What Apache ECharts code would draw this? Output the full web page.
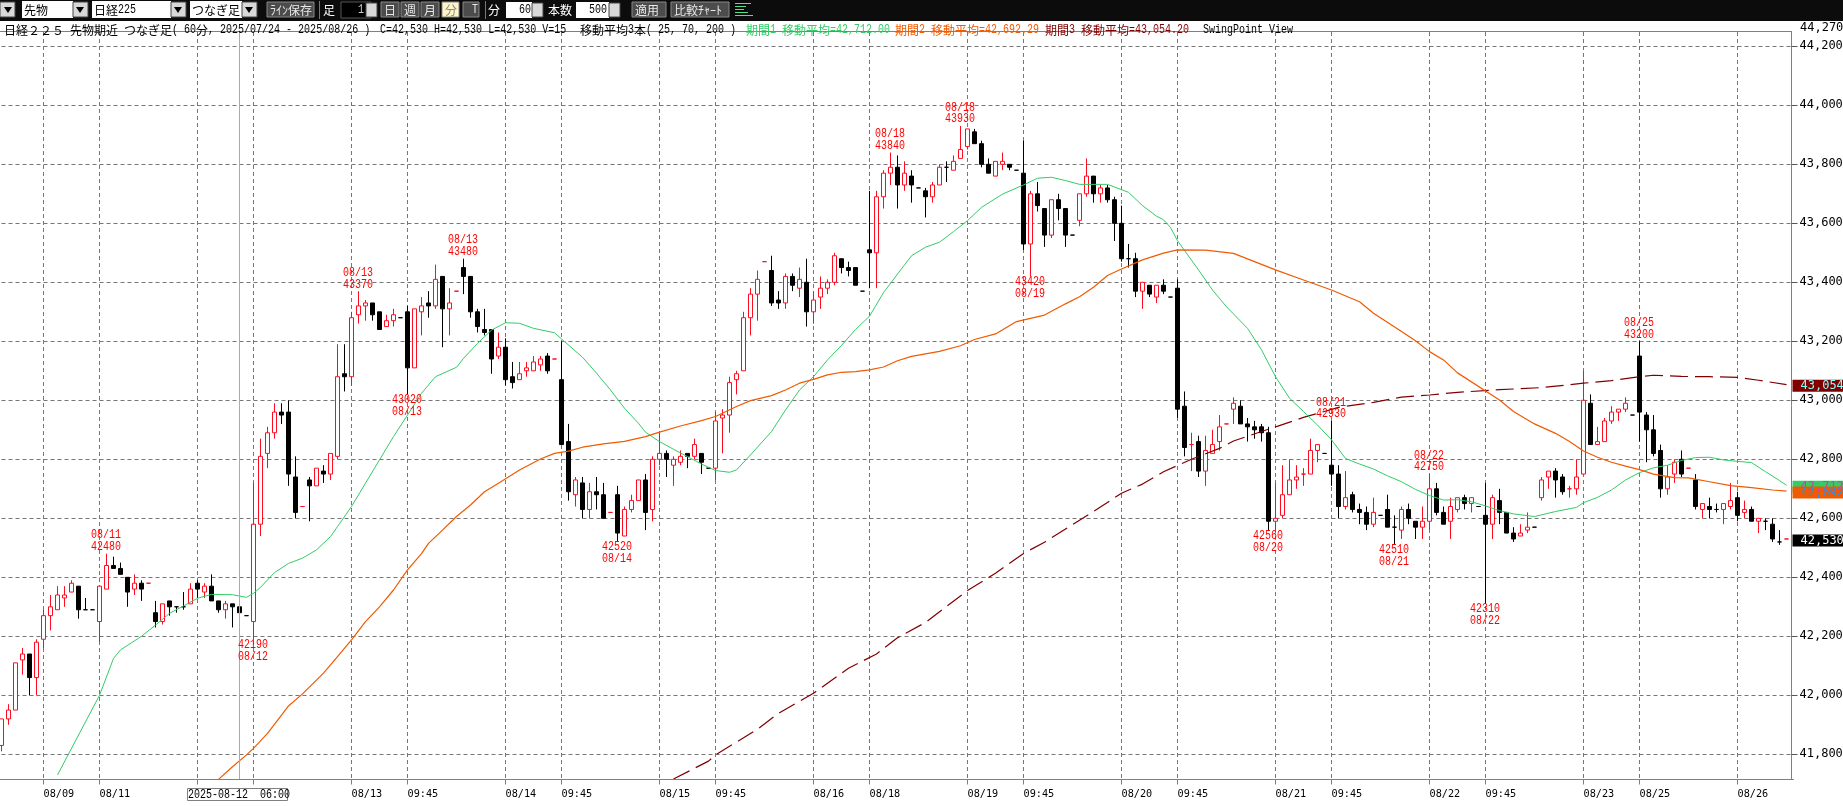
<!DOCTYPE html>
<html>
<head>
<meta charset="utf-8">
<style>html,body{margin:0;padding:0;background:#fff}#c{width:1843px;height:806px}</style>
<script src="https://cdn.jsdelivr.net/npm/echarts@6/dist/echarts.min.js"></script>
</head>
<body>
<div id="c"></div>
<script>
const opens = [
41830,41920,41950,42120,42140,42060,42190,42270,42290,42330,
42350,42370,42290,42290,42250,42360,42440,42430,42400,42360,
42380,42380,42280,42250,42320,42300,42300,42310,42380,42350,
42370,42320,42290,42310,42300,42270,42250,42580,42820,42890,
42960,42960,42740,42640,42730,42710,42760,42750,42810,43090,
43080,43290,43320,43330,43300,43250,43270,43280,43300,43110,
43300,43330,43320,43420,43310,43370,43450,43420,43300,43240,
43240,43150,43180,43080,43070,43100,43100,43120,43150,43140,
43070,42860,42680,42720,42630,42690,42680,42620,42680,42540,
42630,42660,42730,42630,42800,42820,42780,42790,42820,42810,
42820,42770,42770,42940,42950,43070,43100,43280,43360,43470,
43440,43340,43330,43420,43380,43400,43300,43350,43380,43400,
43480,43450,43450,43370,43510,43500,43690,43770,43790,43730,
43760,43720,43710,43690,43730,43790,43780,43820,43860,43910,
43870,43800,43760,43800,43800,43780,43770,43530,43700,43650,
43560,43680,43650,43560,43610,43700,43760,43700,43720,43680,
43600,43480,43480,43370,43390,43350,43390,43350,43380,42980,
42850,42860,42760,42820,42860,42920,42970,42980,42920,42910,
42910,42890,42590,42610,42680,42730,42750,42750,42830,42820,
42780,42750,42640,42680,42630,42620,42580,42610,42630,42570,
42560,42630,42590,42570,42590,42700,42620,42590,42630,42670,
42650,42640,42610,42580,42660,42620,42550,42540,42560,42570,
42670,42740,42760,42740,42700,42700,42750,42990,42850,42860,
42930,42960,42970,42950,43150,42950,42900,42830,42700,42750,
42800,42770,42730,42630,42640,42630,42630,42640,42670,42620,
42630,42590,42590,42580,42520,42530];
const closes = [
41920,41950,42110,42140,42060,42180,42270,42300,42340,42340,
42380,42290,42290,42290,42370,42440,42430,42410,42350,42380,
42360,42380,42250,42310,42300,42300,42300,42360,42360,42370,
42320,42290,42310,42300,42280,42270,42580,42810,42890,42960,
42950,42750,42620,42640,42710,42770,42750,42820,43080,43080,
43280,43320,43330,43290,43240,43270,43290,43280,43110,43310,
43320,43320,43410,43310,43330,43370,43420,43300,43250,43230,
43140,43180,43070,43060,43090,43110,43130,43140,43100,43140,
42850,42690,42730,42630,42690,42680,42600,42620,42550,42630,
42660,42730,42620,42800,42820,42800,42800,42810,42810,42850,
42790,42770,42930,42950,43060,43090,43280,43360,43410,43470,
43330,43330,43420,43390,43410,43300,43340,43380,43400,43490,
43450,43440,43390,43370,43500,43690,43770,43790,43730,43770,
43730,43720,43690,43730,43790,43790,43810,43850,43920,43870,
43800,43770,43810,43810,43790,43780,43530,43700,43660,43560,
43680,43650,43560,43560,43700,43760,43700,43720,43680,43600,
43480,43480,43370,43400,43360,43390,43370,43350,42970,42840,
42850,42760,42830,42850,42910,42920,42990,42920,42910,42900,
42890,42590,42600,42680,42730,42740,42750,42830,42850,42820,
42750,42640,42670,42630,42620,42580,42620,42610,42570,42570,
42630,42600,42570,42590,42700,42620,42580,42640,42670,42650,
42670,42640,42580,42670,42620,42550,42530,42550,42570,42570,
42730,42760,42730,42690,42700,42740,43000,42850,42860,42930,
42960,42970,42990,42950,42960,42900,42820,42700,42740,42790,
42750,42770,42640,42650,42630,42630,42650,42660,42610,42630,
42590,42600,42590,42530,42520,42530];
const lows = [
41810,41900,41950,42070,42000,42000,42160,42220,42290,42300,
42350,42260,42290,42290,42180,42360,42430,42410,42300,42340,
42320,42380,42230,42240,42270,42280,42290,42310,42330,42330,
42320,42280,42260,42230,42280,42270,42190,42540,42770,42870,
42920,42710,42600,42640,42590,42710,42720,42730,42800,43030,
43050,43260,43270,43270,43240,43250,43250,43280,43020,43110,
43220,43280,43310,43180,43220,43370,43360,43280,43230,43220,
43090,43140,43050,43040,43070,43080,43100,43100,43090,43140,
42850,42660,42640,42600,42600,42630,42600,42620,42520,42540,
42620,42660,42560,42590,42780,42740,42710,42780,42770,42800,
42750,42770,42730,42820,42890,43020,43100,43220,43270,43470,
43320,43310,43310,43370,43350,43250,43260,43310,43360,43390,
43430,43420,43390,43370,43380,43380,43650,43730,43650,43710,
43670,43720,43620,43670,43730,43740,43780,43820,43850,43870,
43790,43770,43760,43780,43780,43780,43510,43420,43640,43520,
43550,43610,43520,43560,43590,43690,43670,43670,43670,43540,
43470,43450,43350,43310,43350,43330,43360,43350,42940,42810,
42760,42740,42710,42820,42830,42920,42920,42920,42860,42870,
42860,42560,42560,42600,42680,42700,42710,42750,42790,42820,
42710,42600,42630,42620,42580,42560,42570,42610,42570,42510,
42530,42580,42530,42530,42560,42610,42580,42530,42620,42630,
42620,42640,42310,42530,42580,42550,42520,42540,42550,42570,
42660,42700,42670,42680,42670,42680,42750,42850,42850,42860,
42920,42930,42960,42950,42860,42790,42810,42670,42680,42720,
42740,42770,42630,42600,42600,42620,42580,42630,42590,42600,
42590,42550,42560,42520,42510,42530];
const highs = [
41920,41970,42110,42160,42140,42190,42290,42340,42370,42370,
42390,42370,42330,42290,42370,42480,42470,42450,42400,42410,
42390,42380,42320,42310,42320,42300,42350,42380,42390,42380,
42410,42320,42320,42310,42300,42270,42720,42870,42910,42990,
42990,43000,42810,42640,42740,42770,42780,42820,43190,43190,
43300,43370,43340,43330,43300,43290,43310,43280,43320,43310,
43350,43370,43460,43420,43380,43370,43480,43420,43310,43310,
43240,43230,43210,43130,43130,43130,43150,43150,43160,43140,
43200,42920,42740,42740,42720,42740,42720,42620,42710,42640,
42680,42730,42750,42810,42890,42830,42810,42830,42820,42870,
42820,42770,42960,42970,43080,43100,43300,43380,43440,43470,
43490,43370,43430,43430,43450,43480,43370,43420,43410,43500,
43480,43470,43450,43370,43710,43710,43780,43840,43830,43810,
43780,43720,43720,43740,43800,43810,43830,43930,43920,43920,
43880,43820,43810,43840,43800,43780,43880,43710,43740,43650,
43680,43700,43650,43560,43700,43820,43760,43730,43730,43690,
43660,43530,43500,43400,43390,43390,43410,43350,43410,43030,
42890,42880,42880,42900,42950,42920,43010,43000,42940,42930,
42920,42910,42720,42780,42800,42780,42770,42870,42850,42820,
42930,42780,42760,42690,42650,42640,42670,42610,42680,42610,
42640,42650,42590,42640,42750,42720,42640,42670,42670,42680,
42670,42640,42720,42680,42700,42620,42570,42580,42620,42570,
42740,42760,42770,42750,42710,42800,43100,43020,42910,42940,
42980,42970,43010,42950,43200,42960,42950,42850,42780,42800,
42830,42770,42750,42650,42670,42650,42650,42720,42690,42660,
42640,42600,42600,42600,42560,42530];
// open == close candles drawn red; all the others are black
const redDoji = [21,43,65,79,87,109,170,175,186,224,241,255];

// moving averages as [candle index, price]
const ma25 = [[8,41730],[14,42000],[16,42125],[17,42154],[20,42200],[22,42238],[24,42278],[26,42303],[28,42329],[30,42342],[33,42341],[35,42332],[36,42346],[37,42366],[39,42416],[41,42447],[43,42465],[45,42493],[47,42538],[48,42572],[50,42640],[52,42719],[54,42798],[56,42877],[58,42950],[60,43024],[62,43080],[65,43112],[66,43142],[68,43193],[70,43238],[72,43263],[74,43261],[76,43244],[79,43229],[80,43208],[83,43146],[85,43092],[87,43035],[89,42973],[91,42922],[92,42892],[94,42860],[96,42834],[98,42809],[100,42784],[102,42762],[104,42756],[105,42764],[107,42815],[110,42894],[112,42967],[114,43035],[116,43080],[118,43137],[120,43186],[122,43240],[124,43285],[126,43365],[128,43428],[130,43490],[132,43519],[134,43536],[136,43572],[138,43609],[140,43654],[143,43699],[146,43730],[148,43753],[150,43756],[152,43745],[154,43732],[158,43732],[161,43705],[163,43660],[165,43624],[166,43612],[167,43586],[168,43541],[171,43442],[173,43374],[175,43317],[178,43244],[180,43171],[182,43080],[184,43007],[186,42962],[188,42916],[190,42866],[192,42803],[194,42784],[196,42767],[198,42744],[200,42724],[202,42698],[204,42677],[206,42662],[208,42663],[210,42656],[212,42642],[214,42626],[216,42615],[219,42606],[222,42623],[225,42637],[226,42653],[228,42671],[230,42696],[232,42730],[234,42755],[236,42771],[238,42780],[240,42796],[242,42806],[244,42807],[246,42798],[248,42793],[250,42789],[252,42758],[254,42728],[255,42712]];
const ma70 = [[31,41715],[33,41758],[35,41798],[36,41820],[38,41871],[40,41933],[41,41964],[43,42005],[46,42075],[48,42131],[50,42188],[52,42250],[54,42300],[56,42357],[58,42425],[60,42480],[61,42515],[63,42560],[65,42606],[67,42645],[69,42690],[71,42719],[74,42764],[77,42801],[79,42820],[81,42828],[83,42841],[86,42852],[89,42861],[92,42877],[94,42892],[97,42913],[100,42931],[102,42945],[105,42979],[107,42999],[110,43016],[112,43035],[114,43058],[116,43071],[118,43086],[120,43095],[122,43097],[124,43103],[126,43113],[128,43134],[130,43149],[134,43166],[137,43185],[139,43206],[142,43225],[145,43267],[149,43289],[152,43327],[154,43351],[156,43383],[158,43423],[160,43445],[163,43476],[166,43499],[168,43510],[172,43509],[176,43498],[179,43470],[182,43442],[186,43408],[190,43374],[194,43334],[196,43295],[200,43233],[202,43202],[204,43165],[206,43137],[208,43093],[214,43001],[216,42962],[219,42920],[222,42888],[224,42860],[226,42828],[228,42807],[230,42790],[232,42777],[234,42765],[236,42750],[239,42738],[241,42737],[244,42724],[247,42711],[250,42704],[253,42696],[255,42692]];
const ma200 = [[96,41716],[101,41777],[102,41798],[108,41885],[111,41939],[116,42007],[121,42092],[125,42140],[128,42195],[132,42247],[138,42355],[142,42414],[146,42481],[149,42519],[156,42623],[160,42685],[163,42716],[166,42758],[170,42800],[174,42837],[176,42862],[181,42902],[186,42942],[191,42976],[196,42993],[200,43011],[204,43018],[208,43027],[214,43036],[220,43043],[226,43058],[230,43067],[234,43080],[236,43085],[240,43081],[244,43080],[248,43078],[251,43068],[255,43053]];
const lastValues = {ma25:'42,712.00', ma70:'42,692.29', ma200:'43,054.20', close:'42,530'};

// axis ticks: [candle index, label]
const xTicks = [[6,'08/09'],[14,'08/11'],[28,'08/12'],[36,'09:45'],[50,'08/13'],[58,'09:45'],[72,'08/14'],[80,'09:45'],[94,'08/15'],[102,'09:45'],[116,'08/16'],[124,'08/18'],[138,'08/19'],[146,'09:45'],[160,'08/20'],[168,'09:45'],[182,'08/21'],[190,'09:45'],[204,'08/22'],[212,'09:45'],[226,'08/23'],[234,'08/25'],[248,'08/26']];
const yTicks = [41800,42000,42200,42400,42600,42800,43000,43200,43400,43600,43800,44000,44200];
// swing points: [candle index, date, price]
const swingHighs = [[15,'08/11',42480],[51,'08/13',43370],[66,'08/13',43480],[127,'08/18',43840],[137,'08/18',43930],[190,'08/21',42930],[204,'08/22',42750],[234,'08/25',43200]];
const swingLows = [[36,'08/12',42190],[58,'08/13',43020],[88,'08/14',42520],[147,'08/19',43420],[181,'08/20',42560],[199,'08/21',42510],[212,'08/22',42310]];
const crosshairIndex = 34;

const RED='#ff0c20', GREEN='#33cc66', ORANGE='#f05a00', DARKRED='#800000', GRID='#777777';
const MONO='13px "Liberation Mono"', MONO_SCALE=0.77;
const AXIS_FONT='"DejaVu Sans Mono"';
const categories = opens.map((_, i) => { const t = xTicks.find(t => t[0] === i); return t ? t[1] : ''; }).concat(['']);
const isTick = i => xTicks.some(t => t[0] === i);
const candles = opens.map((o, i) => {
  const value = [o, closes[i], lows[i], highs[i]];
  return o === closes[i]
    ? {value, itemStyle:{borderColorDoji: redDoji.includes(i) ? RED : '#000'}}
    : value;
});
const tag = (index, price, text, bg, fg) => ({
  coord:[index, price], symbol:'rect', symbolSize:[52,12], symbolOffset:[32,1.5],
  itemStyle:{color:bg},
  label:{show:true, position:[8,0], align:'left', verticalAlign:'top', formatter:text, color:fg,
    fontFamily:AXIS_FONT, fontSize:12}
});
const swings = swingHighs.map(t=>({t,high:true})).concat(swingLows.map(t=>({t,high:false})));

// ---- page furniture -----
const G = [];
const rect = (x,y,w,h,fill,stroke) => G.push({type:'rect', silent:true, z:100, shape:{x,y,width:w,height:h}, style:{fill, stroke:stroke||null, lineWidth:1}});
const line = (x1,y1,x2,y2,c) => G.push({type:'line', silent:true, z:101, shape:{x1,y1,x2,y2}, style:{stroke:c, lineWidth:1}});
function write(x, y, str, fill, z) {
  const runs = str.match(/[\u3000-\uff60\u4e00-\u9fff]+|[\uff61-\uff9f]+|[^\u3000-\uff9f\u4e00-\u9fff]+/g);
  let cx = x;
  runs.forEach(r => {
    const c = r.charCodeAt(0);
    const half = c < 0x3000;
    const kana = c >= 0xff61 && c <= 0xff9f;
    G.push({type:'text', silent:true, z:z||102, x:cx, y, scaleX: half ? MONO_SCALE : 1,
      style:{text:r, x:0, y:0, fill, font: half ? MONO : '12px "Noto Sans CJK JP"', textVerticalAlign:'middle', textAlign:'left'}});
    cx += r.length * ((half || kana) ? 6 : 12);
  });
}
rect(0,0,1843,21,'#0c0c0c');
const combo = (x0,x1,b,t) => { rect(x0,1,x1-x0,17,'#ffffff'); write(x0+2,10,t,'#000'); rect(x1,2,b-x1-1,15,'#d8d8d8','#444'); G.push({type:'polygon',silent:true,z:103,shape:{points:[[x1+3,7],[x1+11,7],[x1+7,13]]},style:{fill:'#000'}}); };
rect(0,2,15,15,'#d8d8d8','#444'); G.push({type:'polygon',silent:true,z:103,shape:{points:[[4,7],[12,7],[8,13]]},style:{fill:'#000'}});
combo(22,73,89,'先物'); combo(92,171,187,'日経225'); combo(190,242,258,'つなぎ足');
const btn = (x,w,t,bg,fg) => { rect(x,2,w,15,bg||'#4c4c4c','#888'); write(x+3,10,t,fg||'#e8e8e8'); };
btn(267,47,'ﾗｲﾝ保存');
line(319.5,1,319.5,19,'#777'); write(323,10,'足','#fff');
rect(341,2,30,16,'#000','#555'); write(358,10,'1','#ccc'); rect(366,3,11,14,'#d8d8d8','#444');
btn(381,18,'日'); btn(401,18,'週'); btn(421,18,'月'); btn(442,17,'分','#fff6c8','#888'); btn(463,16,' T');
line(485.5,1,485.5,19,'#777'); write(488,10,'分','#fff');
rect(506,2,26,16,'#fff'); write(519,10,'60','#000'); rect(532,3,11,14,'#d8d8d8','#444');
write(548,10,'本数','#fff');
rect(576,2,33,16,'#fff'); write(589,10,'500','#000'); rect(609,3,11,14,'#d8d8d8','#444');
btn(632,34,'適用'); btn(671,58,'比較ﾁｬｰﾄ');
[3,6,9,12,15].forEach((y,k) => rect(735,y,[16,11,9,13,18][k],1,'#50e090'));

line(0,31.5,1792,31.5,'#808080');
line(0,779.5,1792,779.5,'#808080');
write(4,30,'日経２２５ 先物期近 つなぎ足( 60分, 2025/07/24 - 2025/08/26 )','#000');
write(380,30,'C=42,530 H=42,530 L=42,530 V=15','#000');
write(580,30,'移動平均3本( 25, 70, 200 )','#000');
write(746,30,'期間1 移動平均=42,712.00',GREEN);
write(895,30,'期間2 移動平均=42,692.29',ORANGE);
write(1045,30,'期間3 移動平均=43,054.20',DARKRED);
write(1203,30,'SwingPoint View','#000');
rect(187.5,788.5,100,12,'#ffffff','#808080');
write(188,795,'2025-08-12  06:00','#000');
G.push({type:'text',silent:true,z:99,x:1800,y:28,style:{text:'44,270.0',x:0,y:0,fill:'#000',font:'12px "DejaVu Sans Mono"',textVerticalAlign:'middle'}});
G.push({type:'rect',silent:true,z:101,shape:{x:1792,y:0,width:51,height:21},style:{fill:'#0c0c0c'}});

const chart = echarts.init(document.getElementById('c'), null, {renderer:'canvas'});
chart.setOption({
  animation:false,
  backgroundColor:'#ffffff',
  tooltip:{show:false},
  grid:{left:1.5, top:32, width:7*(categories.length-1), height:747.5, containLabel:false, outerBoundsMode:'none'},
  xAxis:{
    type:'category', data:categories, boundaryGap:false,
    axisLine:{show:true, lineStyle:{color:'#808080', width:1}},
    axisTick:{show:true, length:5, interval:i=>isTick(i), lineStyle:{color:'#808080'}},
    axisLabel:{show:true, interval:i=>isTick(i), align:'left', margin:10, hideOverlap:false, color:'#000', fontFamily:AXIS_FONT, fontSize:10.2},
    splitLine:{show:true, interval:i=>isTick(i), lineStyle:{color:GRID, type:[4,3], width:1}}
  },
  yAxis:{
    type:'value', position:'right', offset:-2, min:41714.6, max:44248.5, scale:true,
    axisLine:{show:true, lineStyle:{color:'#808080', width:1}},
    axisTick:{show:true, length:6, customValues:yTicks, lineStyle:{color:'#555'}},
    axisLabel:{show:true, customValues:yTicks, margin:8, padding:[3,0,0,0], color:'#000', fontFamily:AXIS_FONT, fontSize:12,
      formatter:v=>Math.round(v).toLocaleString('en-US')+'.0'},
    splitLine:{show:true, lineStyle:{color:GRID, type:[4,3], width:1}}
  },
  graphic:G,
  series:[
    {type:'candlestick', name:'candles', data:candles, barWidth:4, z:3, clip:false,
     itemStyle:{color:'#ffffff', color0:'#000000', borderColor:RED, borderColor0:'#000000', borderColorDoji:'#000000', borderWidth:1},
     markLine:{silent:true, symbol:'none', animation:false, label:{show:false}, lineStyle:{color:'#aaaaaa', type:'solid', width:1},
       data:[{xAxis:crosshairIndex}]},
     markPoint:{silent:true, animation:false, data:[tag(255,42530,lastValues.close,'#000000','#ffffff')]}},
    {type:'line', name:'ma200', data:ma200, showSymbol:false, symbol:'none', z:4, lineStyle:{color:DARKRED, width:1.2, type:[18,7]},
     markPoint:{silent:true, animation:false, data:[tag(255,43054.2,lastValues.ma200,DARKRED,'#80ffff')]}},
    {type:'line', name:'ma25', data:ma25, showSymbol:false, symbol:'none', z:4, lineStyle:{color:GREEN, width:1},
     markPoint:{silent:true, animation:false, data:[tag(255,42712,lastValues.ma25,GREEN,'#d040a0')]}},
    {type:'line', name:'ma70', data:ma70, showSymbol:false, symbol:'none', z:4, lineStyle:{color:ORANGE, width:1.2},
     markPoint:{silent:true, animation:false, data:[tag(255,42692.29,lastValues.ma70,ORANGE,'#2090ff')]}},
    {type:'custom', name:'swing points', z:9, clip:false, silent:true,
     data:swings.map(s=>[s.t[0], s.t[2]]), encode:{x:0,y:1},
     renderItem:(params, api) => {
       const s = swings[params.dataIndex];
       const p = api.coord([api.value(0), api.value(1)]);
       const lines = s.high ? [[s.t[1],-18.7],[String(s.t[2]),-7]] : [[String(s.t[2]),5],[s.t[1],17]];
       return {type:'group', children:lines.map(l => ({
         type:'text', x:p[0]-15.5, y:p[1]+l[1], scaleX:MONO_SCALE,
         style:{text:l[0], x:0, y:0, fill:'#ff0000', font:MONO, textAlign:'left', textVerticalAlign:'middle'}
       }))};
     }}
  ]
});
</script>
</body>
</html>
